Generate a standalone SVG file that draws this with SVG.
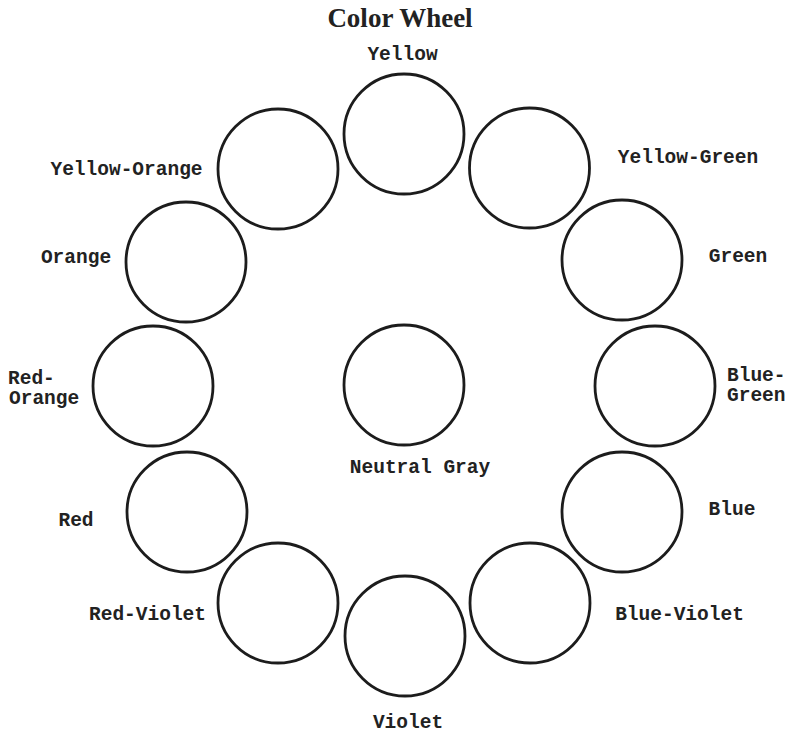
<svg xmlns="http://www.w3.org/2000/svg" width="792" height="733" viewBox="0 0 792 733">
<style>
.ring{fill:none;stroke:#1c1c1c;stroke-width:2.8}
.lbl{font-family:"Liberation Mono","DejaVu Sans Mono",monospace;font-weight:bold;font-size:19.5px;fill:#222}
.mid{text-anchor:middle}
.title{font-family:"Liberation Serif","Times New Roman",serif;font-weight:bold;font-size:27px;fill:#222;text-anchor:middle}
</style>
<rect width="792" height="733" fill="#fff"/>
<text class="title" x="400" y="27">Color Wheel</text>
<g id="yellow"><circle class="ring" cx="404" cy="134" r="60"/><text class="lbl mid" x="402.5" y="60">Yellow</text></g>
<g id="yellow-green"><circle class="ring" cx="529.5" cy="168" r="60"/><text class="lbl mid" x="688" y="163">Yellow-Green</text></g>
<g id="green"><circle class="ring" cx="622" cy="260" r="60"/><text class="lbl mid" x="738" y="262">Green</text></g>
<g id="blue-green"><circle class="ring" cx="655" cy="386" r="60"/><text class="lbl" x="727" y="381">Blue-</text><text class="lbl" x="727" y="401">Green</text></g>
<g id="blue"><circle class="ring" cx="622" cy="512" r="60"/><text class="lbl mid" x="732" y="515">Blue</text></g>
<g id="blue-violet"><circle class="ring" cx="530" cy="603" r="60"/><text class="lbl mid" x="679.5" y="620">Blue-Violet</text></g>
<g id="violet"><circle class="ring" cx="405" cy="636" r="60"/><text class="lbl mid" x="408" y="728">Violet</text></g>
<g id="red-violet"><circle class="ring" cx="278" cy="603" r="60"/><text class="lbl mid" x="147.5" y="620">Red-Violet</text></g>
<g id="red"><circle class="ring" cx="187" cy="512" r="60"/><text class="lbl mid" x="76" y="526">Red</text></g>
<g id="red-orange"><circle class="ring" cx="153" cy="386" r="60"/><text class="lbl" x="8" y="384">Red-</text><text class="lbl" x="9" y="404">Orange</text></g>
<g id="orange"><circle class="ring" cx="186" cy="262" r="60"/><text class="lbl mid" x="76" y="263">Orange</text></g>
<g id="yellow-orange"><circle class="ring" cx="278" cy="169" r="60"/><text class="lbl mid" x="126.5" y="175">Yellow-Orange</text></g>
<g id="neutral-gray"><circle class="ring" cx="404" cy="385" r="60"/><text class="lbl mid" x="420" y="473">Neutral Gray</text></g>
</svg>
